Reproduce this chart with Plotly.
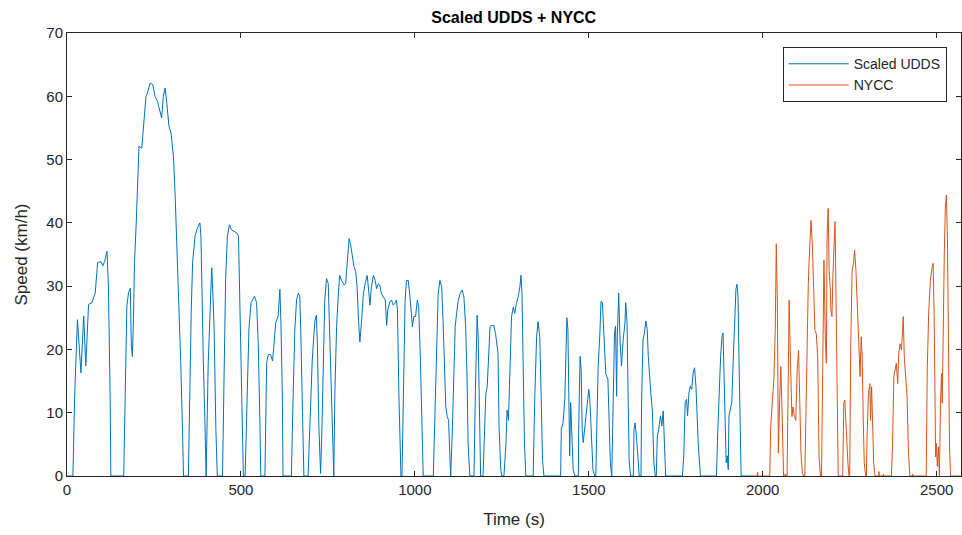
import plotly.graph_objects as go

# Scaled UDDS speed trace: time (s) and speed (km/h) breakpoints
udds_t = [0, 17, 22, 25, 30, 40, 48, 54, 62, 72, 81, 88, 97, 103, 108, 115, 119, 124, 126,
          163, 167, 172, 177, 182, 185, 188, 191, 194, 199, 203, 207, 215, 220, 227, 231, 239, 247,
          253, 260, 268, 272, 277, 282, 287, 293, 299, 306, 311, 316, 322, 327, 332, 335,
          349, 352, 357, 361, 368, 375, 382, 385, 388, 392, 397, 400,
          406, 411, 416, 420, 423, 428, 432,
          447, 451, 456, 461, 467, 473, 480, 488, 493, 497, 502, 507,
          512, 516, 523, 529, 535, 539, 545, 550, 555, 557,
          569, 574, 579, 585, 591, 595, 600, 607, 612, 615, 619, 621,
          645, 650, 655, 660, 665, 669, 672, 677, 681,
          693, 696, 700, 705, 710, 713, 717, 720, 724, 729,
          733, 737, 741, 746, 751, 756, 761, 765, 767,
          770, 775, 780, 784, 789, 797, 801, 806, 811, 815, 820, 825, 830, 834, 838, 842, 847,
          852, 857, 863, 867, 871, 875, 881, 886, 890, 895, 899, 904, 909, 915, 919, 922, 928,
          933, 938, 943, 947, 950, 954, 957, 960,
          963, 965, 968, 972, 976, 981, 986, 990, 993, 997, 1002, 1007, 1011, 1016, 1020, 1024,
          1053, 1057, 1062, 1067, 1072, 1077, 1081, 1085, 1089, 1093, 1097, 1101, 1103,
          1108, 1112, 1116, 1120, 1125, 1130, 1136, 1141, 1146, 1150, 1153, 1158,
          1170, 1174, 1179, 1182, 1186, 1189,
          1196, 1200, 1204, 1208, 1212, 1216, 1221, 1227, 1232, 1235, 1239, 1242, 1247, 1250,
          1256, 1262, 1265, 1269, 1273, 1278, 1283, 1287, 1292, 1297, 1302, 1305, 1308, 1311,
          1315, 1319,
          1340, 1345, 1350, 1354, 1359, 1364, 1367, 1371,
          1419, 1421, 1426, 1431, 1434, 1437, 1440, 1443, 1445, 1448, 1451, 1455, 1460,
          1470, 1471, 1475, 1478, 1481, 1484, 1488, 1492, 1496, 1500, 1503, 1508, 1512, 1517,
          1520, 1524, 1527, 1532, 1535, 1539, 1543, 1549, 1555, 1558, 1562, 1566,
          1570, 1574, 1577, 1580, 1582, 1586, 1590, 1594, 1599, 1604, 1606, 1610, 1613, 1616, 1620,
          1628, 1630, 1633, 1637, 1641, 1645,
          1650, 1652, 1656, 1660, 1664, 1668, 1671, 1675, 1679, 1683, 1687, 1691,
          1694, 1697, 1701, 1706, 1710, 1714, 1718, 1721,
          1769, 1773, 1777, 1781, 1784, 1788, 1792, 1796, 1800, 1804, 1808, 1811, 1815, 1821,
          1867, 1871, 1875, 1879, 1883, 1886, 1889, 1892, 1895, 1898, 1901, 1903, 1907, 1911,
          1915, 1919, 1923, 1926, 1929, 1932, 1935, 1938,
          1972]
udds_v = [0, 0, 12.6, 18.7, 24.7, 16.3, 25.3, 17.4, 27.1, 27.4, 28.9, 33.7, 33.9, 33.2, 33.9, 35.5, 30, 12.6, 0,
          0, 12.6, 26.8, 29, 29.7, 20.5, 18.9, 24.7, 33.7, 40, 47.9, 52.1, 51.8, 55.3, 60, 60.5, 62.1, 61.8,
          60, 59.2, 57.1, 56.6, 60, 61.3, 58.9, 55.3, 54.2, 50.5, 44.2, 36.3, 28.4, 17.9, 7.4, 0,
          0, 12.6, 25.8, 33.7, 37.9, 39.2, 40, 37.9, 28.4, 17.9, 7.4, 0,
          17.9, 27, 32.9, 28, 23.2, 7.4, 0,
          0, 17.9, 31, 37.9, 39.7, 38.9, 38.7, 38.4, 37.9, 28.4, 12.6, 0,
          0, 7.4, 23.2, 27.4, 27.9, 28.4, 27.4, 20.5, 7.4, 0,
          0, 17.9, 19.2, 19.2, 18.2, 21.6, 24.2, 25.3, 29.5, 24.2, 12.6, 0,
          0, 12.6, 23.2, 27.9, 28.9, 28.4, 23.2, 10, 0,
          0, 5.2, 13, 18.3, 22.5, 24.6, 25.4, 20.4, 7.8, 0.4,
          7.8, 18.3, 27.8, 31.2, 30.4, 20.9, 10.4, 2.5, 0,
          13, 23.6, 28.8, 31.7, 30.9, 30.2, 30.4, 34.1, 37.5, 36.7, 34.6, 33.1, 32.3, 29.9, 24.6, 21.2, 24.6,
          28.8, 30.4, 31.7, 29.4, 27, 29.9, 31.7, 30.9, 29.6, 30.4, 30.2, 28.8, 28.3, 27.8, 23.8, 26.2, 27.5,
          27.8, 27, 27.3, 27.8, 26.2, 13, 3.6, 0,
          0, 5.2, 18.3, 27.8, 30.9, 30.9, 28.3, 25.2, 23.6, 25.2, 25.2, 27.8, 26.7, 18.3, 7.8, 0,
          0, 7.8, 20.9, 28.8, 30.9, 29.9, 24.6, 18.3, 10.9, 9.4, 8.8, 2.5, 0,
          7.8, 18.3, 23.6, 25.7, 27.8, 28.8, 29.4, 28.3, 23.6, 15.7, 5.2, 0,
          0, 13.5, 25.4, 22, 5, 0,
          0, 6, 13, 14.1, 18.3, 23.6, 23.8, 23.8, 22.5, 21.2, 19.4, 7.8, 1, 0,
          0, 5.2, 10.4, 8.8, 18.3, 25.2, 26.7, 25.7, 27.3, 28.3, 29.9, 31.7, 28.8, 18.3,
          5.2, 0,
          0, 13, 22, 24.4, 22, 10.4, 2.5, 0,
          0, 7.4, 8.4, 12.1, 17.9, 25, 23.2, 10, 3.2, 11.6, 6.3, 1, 0,
          0, 7.4, 18.9, 16.8, 7.4, 5.3, 7.4, 10, 12.6, 13.7, 12.1, 4.7, 1, 0,
          0, 10, 17.4, 22.6, 27.6, 27.4, 23.2, 16.1, 15.3, 10, 2.1, 0,
          9.5, 22.6, 23.7, 12.6, 22.1, 28.9, 21.1, 17.4, 21.6, 24.2, 27.4, 24.2, 12.6, 2.6, 0,
          0, 7.4, 8.4, 6.3, 2.6, 0,
          0, 12.6, 21.6, 22.6, 24.5, 23.2, 18.9, 14.7, 12.6, 10, 2.1, 0,
          0, 6.3, 7.4, 9.5, 7.9, 10.3, 3.2, 0,
          0, 3.2, 11.6, 12.1, 9.5, 13.2, 14.2, 13.7, 16.3, 17.1, 14.2, 8.9, 4.7, 0,
          0, 7.4, 13.7, 18.9, 22.1, 22.6, 15.3, 7.4, 2.1, 3.2, 1, 9.5, 10.5, 11.6,
          17.9, 23.2, 29.5, 30.3, 28.4, 17.9, 7.4, 0,
          0]

# NYCC speed trace: time (s) and speed (km/h) breakpoints
nycc_t = [1972, 1984, 1985, 1986, 2020, 2023, 2028, 2032, 2036, 2039, 2042, 2045, 2049, 2052, 2055,
          2058, 2060, 2065, 2066, 2070,
          2073, 2076, 2079, 2082, 2084, 2087, 2091, 2095, 2099, 2103, 2106, 2110, 2114, 2118,
          2121, 2124, 2128, 2131, 2135, 2139, 2143, 2147, 2150, 2154, 2158, 2162, 2166,
          2169, 2172, 2176, 2180, 2183, 2185, 2188, 2191, 2194, 2196, 2199, 2202, 2206, 2208,
          2211, 2214, 2217,
          2230, 2233, 2236, 2239, 2242, 2245, 2248,
          2250, 2253, 2257, 2261, 2264, 2268, 2272, 2276, 2280, 2283, 2286, 2289, 2292, 2296,
          2298, 2300, 2304, 2308, 2310, 2313, 2316, 2319, 2323,
          2333, 2334, 2335, 2346, 2347, 2348,
          2370, 2373, 2377, 2380, 2384, 2388, 2391, 2395, 2399, 2402, 2404, 2407, 2411, 2415,
          2419, 2423,
          2430, 2431, 2432,
          2470, 2473, 2477, 2482, 2487, 2490, 2493, 2495, 2497, 2499, 2502, 2505, 2508,
          2511, 2514, 2516, 2519, 2522, 2525, 2528, 2531, 2534, 2537, 2540, 2569]
nycc_v = [0, 0, 0.6, 0, 0, 7.8, 12, 15.2, 23, 36.7, 27.8, 3.6, 12.5, 17.3, 11.5,
          2, 0, 0.3, 0, 0,
          15.7, 27.8, 19.9, 10.9, 9.4, 10.9, 9.4, 8.8, 16.7, 19.9, 14.1, 3.6, 0.4, 0,
          0, 10.4, 25.7, 30.4, 36.2, 40.4, 36.2, 29.9, 23, 22.5, 18.8, 3, 0,
          0, 18.3, 34.1, 21.5, 17.8, 37.8, 42.3, 32.5, 29.9, 26.2, 25.2, 32, 37.8, 40.2,
          27.3, 10.4, 0,
          0, 11.5, 12, 8.3, 5.2, 2, 0,
          0, 20.4, 32.5, 33.6, 35.7, 32.5, 27.3, 20.9, 15.7, 22, 18.8, 8.8, 2, 0,
          0, 6.2, 13, 14.6, 8.8, 14.1, 8.3, 2, 0,
          0, 0.7, 0, 0, 0.3, 0,
          0, 4.6, 15.7, 16.7, 17.8, 14.6, 19.4, 20.9, 19.9, 23, 25.2, 18.8, 15.7, 12.5,
          3.6, 0,
          0, 0.3, 0,
          0, 16.7, 25.7, 30.9, 33, 33.6, 24.6, 11.5, 3, 5.2, 1.5, 4.6, 0,
          11.5, 16.2, 11.5, 26.2, 35.2, 42.5, 44.4, 37.8, 17.8, 4.6, 0, 0]

x_ticks = [0, 500, 1000, 1500, 2000, 2500]
y_ticks = [0, 10, 20, 30, 40, 50, 60, 70]

FONT = "Liberation Sans, Arial, Helvetica, sans-serif"
AXIS_COLOR = "#262626"

fig = go.Figure()
fig.add_trace(go.Scatter(x=udds_t, y=udds_v, mode="lines", name="Scaled UDDS",
                         line=dict(color="#0072BD", width=1)))
fig.add_trace(go.Scatter(x=nycc_t, y=nycc_v, mode="lines", name="NYCC",
                         line=dict(color="#D95319", width=1)))

axis_common = dict(
    showline=True, linecolor=AXIS_COLOR, linewidth=1, mirror="ticks",
    ticks="inside", ticklen=5, tickcolor=AXIS_COLOR, tickwidth=1,
    showgrid=False, zeroline=False,
    tickfont=dict(family=FONT, size=15, color=AXIS_COLOR),
)

fig.update_layout(
    width=962, height=535,
    margin=dict(l=67, r=1, t=33, b=59),
    paper_bgcolor="white", plot_bgcolor="white",
    title=dict(text="<b>Scaled UDDS + NYCC</b>", x=0.534, xanchor="center",
               y=0.968, yanchor="middle",
               font=dict(family=FONT, size=16, color="black")),
    xaxis=dict(range=[0, 2570], tickvals=x_ticks,
               title=dict(text="Time (s)", standoff=16,
                          font=dict(family=FONT, size=17, color=AXIS_COLOR)),
               **axis_common),
    yaxis=dict(range=[0, 70], tickvals=y_ticks,
               title=dict(text="Speed (km/h)", standoff=14,
                          font=dict(family=FONT, size=17, color=AXIS_COLOR)),
               **axis_common),
    legend=dict(x=0.984, y=0.968, xanchor="right", yanchor="top",
                bgcolor="white", bordercolor=AXIS_COLOR, borderwidth=1,
                font=dict(family=FONT, size=14, color=AXIS_COLOR),
                itemwidth=60, tracegroupgap=0),
    showlegend=True,
)

fig.write_html("out.html")
